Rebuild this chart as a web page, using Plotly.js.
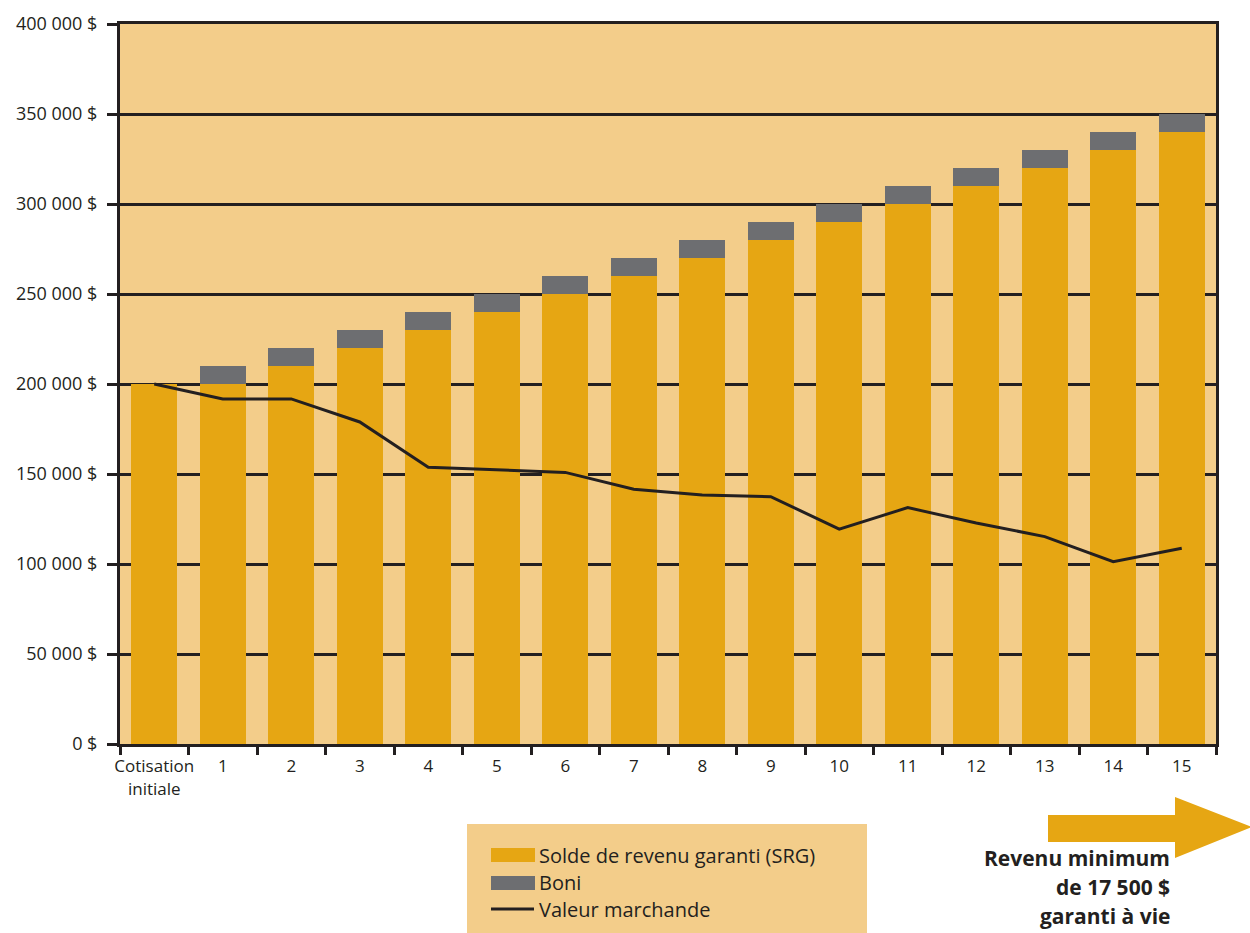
<!DOCTYPE html>
<html>
<head>
<meta charset="utf-8">
<script src="https://cdn.plot.ly/plotly-3.0.1.min.js"></script>
<style>
  html, body { margin: 0; padding: 0; background: #ffffff; }
  #chart { width: 1250px; height: 933px; }
</style>
</head>
<body>
<div id="chart"></div>
<script>
// Categories along the x axis
const categories = ['Cotisation<br>initiale', '1', '2', '3', '4', '5', '6', '7', '8', '9', '10', '11', '12', '13', '14', '15'];

// Guaranteed income balance (SRG)
const srgValues = [200000, 200000, 210000, 220000, 230000, 240000, 250000, 260000, 270000, 280000, 290000, 300000, 310000, 320000, 330000, 340000];

// Bonus stacked on top of the SRG
const boniValues = [0, 10000, 10000, 10000, 10000, 10000, 10000, 10000, 10000, 10000, 10000, 10000, 10000, 10000, 10000, 10000];

// Market value
const marketValues = [200000, 191700, 191700, 178900, 153700, 152200, 150900, 141500, 138300, 137400, 119400, 131300, 122800, 115200, 101300, 108700];

// Y axis ticks
const yTickVals = [0, 50000, 100000, 150000, 200000, 250000, 300000, 350000, 400000];
const yTickText = ['0 $', '50 000 $', '100 000 $', '150 000 $', '200 000 $', '250 000 $', '300 000 $', '350 000 $', '400 000 $'];

// Series names
const seriesNames = ['Solde de revenu garanti (SRG)', 'Boni', 'Valeur marchande'];

// Side note
const noteLines = ['Revenu minimum', 'de 17 500 $', 'garanti à vie'];

const ORANGE = '#E6A613';
const GREY = '#6D6E71';
const INK = '#231F20';
const PEACH = '#F3CD8A';
const FONT = 'Open Sans, sans-serif';

// Plot frame in pixels, and helpers to place decorations in paper units
const W = 1250, H = 933;
const L = 120, R = 1216, T = 24, B = 744;
const px = x => (x - L) / (R - L);
const py = y => (B - y) / (B - T);

const traces = [
  {
    type: 'bar', x: categories, y: srgValues, name: seriesNames[0],
    marker: { color: ORANGE, line: { width: 0 } }, showlegend: false
  },
  {
    type: 'bar', x: categories, y: boniValues, name: seriesNames[1],
    marker: { color: GREY, line: { width: 0 } }, showlegend: false
  },
  {
    type: 'scatter', mode: 'lines', x: categories, y: marketValues, name: seriesNames[2],
    line: { color: INK, width: 3 }, showlegend: false
  }
];

const shapes = [
  // legend panel
  { type: 'rect', xref: 'paper', yref: 'paper', x0: px(467), x1: px(867), y0: py(824), y1: py(945),
    fillcolor: PEACH, line: { width: 0 }, layer: 'above' },
  { type: 'rect', xref: 'paper', yref: 'paper', x0: px(491), x1: px(535), y0: py(848), y1: py(862),
    fillcolor: ORANGE, line: { width: 0 }, layer: 'above' },
  { type: 'rect', xref: 'paper', yref: 'paper', x0: px(491), x1: px(535), y0: py(876), y1: py(890),
    fillcolor: GREY, line: { width: 0 }, layer: 'above' },
  { type: 'line', xref: 'paper', yref: 'paper', x0: px(491), x1: px(534), y0: py(909), y1: py(909),
    line: { color: INK, width: 3 }, layer: 'above' },
  // arrow
  { type: 'path', xref: 'paper', yref: 'paper', layer: 'above',
    path: 'M' + px(1048) + ',' + py(815) + ' L' + px(1175) + ',' + py(815) +
          ' L' + px(1175) + ',' + py(797) + ' L' + px(1252) + ',' + py(827) +
          ' L' + px(1175) + ',' + py(858) + ' L' + px(1175) + ',' + py(842) +
          ' L' + px(1048) + ',' + py(842) + ' Z',
    fillcolor: ORANGE, line: { width: 0 } }
];

const legendY = [855, 882, 909];
const annotations = seriesNames.map((name, i) => ({
  xref: 'paper', yref: 'paper', x: px(537), y: py(legendY[i]),
  xanchor: 'left', yanchor: 'middle', showarrow: false, text: name,
  font: { family: FONT, size: 20, color: INK }
}));

const noteY = [858, 887, 916];
noteLines.forEach((t, i) => annotations.push({
  xref: 'paper', yref: 'paper', x: px(1172), y: py(noteY[i]),
  xanchor: 'right', yanchor: 'middle', showarrow: false, text: '<b>' + t + '</b>',
  font: { family: FONT, size: 21, color: INK }
}));

const layout = {
  width: W, height: H,
  margin: { l: L, r: W - R, t: T, b: H - B, pad: 0 },
  paper_bgcolor: '#ffffff',
  plot_bgcolor: PEACH,
  barmode: 'stack',
  bargap: 0.33,
  showlegend: false,
  font: { family: FONT, size: 17, color: INK },
  xaxis: {
    type: 'category',
    showgrid: false, zeroline: false,
    showline: true, linecolor: INK, linewidth: 3, mirror: true,
    ticks: 'outside', tickson: 'boundaries', ticklen: 8, tickwidth: 3, tickcolor: INK,
    tickangle: 0, ticklabelstandoff: 5,
    tickfont: { family: FONT, size: 17, color: INK },
    fixedrange: true
  },
  yaxis: {
    range: [0, 400000],
    tickvals: yTickVals, ticktext: yTickText,
    showgrid: true, gridcolor: INK, gridwidth: 3,
    zeroline: false,
    showline: true, linecolor: INK, linewidth: 3, mirror: true,
    ticks: 'outside', ticklen: 10, tickwidth: 3, tickcolor: INK,
    ticklabelstandoff: 6,
    tickfont: { family: FONT, size: 18, color: INK },
    fixedrange: true
  },
  shapes: shapes,
  annotations: annotations
};

Plotly.newPlot('chart', traces, layout, { displayModeBar: false, staticPlot: true });
</script>
</body>
</html>
